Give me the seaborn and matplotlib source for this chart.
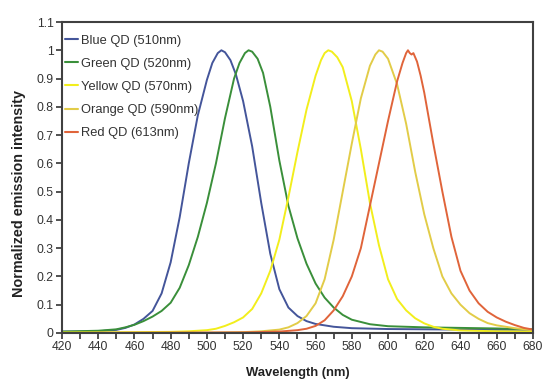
import matplotlib
matplotlib.use("Agg")
import matplotlib.pyplot as plt
import seaborn as sns
import pandas as pd
from matplotlib.ticker import MultipleLocator, FuncFormatter

# ---- data ----
series_names = ["Blue QD (510nm)", "Green QD (520nm)", "Yellow QD (570nm)",
                "Orange QD (590nm)", "Red QD (613nm)"]

blue_x = [420, 430, 440, 450, 455, 460, 465, 470, 475, 480, 485, 490, 495, 500, 503, 506,
          508, 510, 513, 516, 520, 525, 530, 535, 540, 545, 550, 555, 560, 570, 580, 600,
          640, 680]
blue_y = [0.005, 0.005, 0.006, 0.011, 0.018, 0.03, 0.05, 0.078, 0.14, 0.25, 0.41, 0.6,
          0.77, 0.895, 0.955, 0.99, 1.0, 0.993, 0.965, 0.915, 0.82, 0.66, 0.46, 0.28,
          0.155, 0.09, 0.06, 0.042, 0.032, 0.022, 0.017, 0.014, 0.012, 0.011]

green_x = [420, 440, 450, 455, 460, 465, 470, 475, 480, 485, 490, 495, 500, 505, 510, 515,
           518, 521, 523, 525, 528, 531, 535, 540, 545, 550, 555, 560, 565, 570, 575, 580,
           590, 600, 620, 640, 660, 680]
green_y = [0.005, 0.008, 0.013, 0.02, 0.029, 0.042, 0.058, 0.078, 0.107, 0.16, 0.24, 0.34,
           0.46, 0.6, 0.76, 0.9, 0.955, 0.99, 1.0, 0.995, 0.97, 0.92, 0.8, 0.61, 0.45,
           0.335, 0.245, 0.175, 0.125, 0.09, 0.064, 0.047, 0.031, 0.024, 0.02, 0.018,
           0.016, 0.013]

yellow_x = [420, 460, 480, 490, 500, 505, 510, 515, 520, 525, 530, 535, 540, 545, 550, 555,
            560, 563, 565, 567, 569, 572, 575, 580, 585, 590, 595, 600, 605, 610, 615, 620,
            625, 630, 640, 660, 680]
yellow_y = [0.002, 0.003, 0.004, 0.006, 0.01, 0.015, 0.025, 0.038, 0.055, 0.085, 0.14, 0.22,
            0.33, 0.48, 0.64, 0.79, 0.91, 0.965, 0.99, 1.0, 0.995, 0.975, 0.94, 0.82, 0.65,
            0.46, 0.31, 0.19, 0.12, 0.08, 0.052, 0.034, 0.022, 0.015, 0.009, 0.006, 0.005]

orange_x = [420, 500, 520, 530, 540, 545, 550, 555, 560, 565, 570, 575, 580, 585, 590, 593,
            595, 597, 600, 605, 610, 615, 620, 625, 630, 635, 640, 645, 650, 655, 660, 670,
            680]
orange_y = [0.0, 0.001, 0.003, 0.006, 0.012, 0.02, 0.035, 0.06, 0.105, 0.19, 0.33, 0.5, 0.67,
            0.83, 0.945, 0.985, 1.0, 0.995, 0.97, 0.88, 0.74, 0.57, 0.42, 0.3, 0.2, 0.14,
            0.1, 0.07, 0.05, 0.035, 0.027, 0.017, 0.01]

red_x = [420, 520, 540, 550, 555, 560, 565, 570, 575, 580, 585, 590, 595, 600, 605, 608,
         610, 611, 612, 613, 614, 616, 618, 620, 625, 630, 635, 640, 645, 650, 655, 660,
         665, 670, 675, 680]
red_y = [0.0, 0.002, 0.005, 0.01, 0.015, 0.025, 0.045, 0.08, 0.13, 0.2, 0.3, 0.45, 0.6, 0.75,
         0.89, 0.955, 0.99, 1.0, 0.99, 0.985, 0.99, 0.96, 0.91, 0.85, 0.67, 0.5, 0.34, 0.22,
         0.15, 0.105, 0.075, 0.055, 0.04, 0.028, 0.018, 0.012]

colors = ["#44559a", "#3a8f3a", "#f2ee1c", "#e2cc48", "#e0643a"]

xs = [blue_x, green_x, yellow_x, orange_x, red_x]
ys = [blue_y, green_y, yellow_y, orange_y, red_y]
frames = [pd.DataFrame({"Wavelength": x, "Intensity": y, "Series": n})
          for x, y, n in zip(xs, ys, series_names)]
df = pd.concat(frames, ignore_index=True)

sns.set_style("ticks")
plt.rcParams["font.family"] = ["Liberation Sans", "DejaVu Sans"]

fig = plt.figure(figsize=(5.47, 3.82), dpi=100)
ax = fig.add_axes([0.1133, 0.1283, 0.861, 0.8141])

sns.lineplot(data=df, x="Wavelength", y="Intensity", hue="Series",
             hue_order=series_names, palette=colors, estimator=None,
             linewidth=1.4, ax=ax, legend=True)

ax.set_xlim(420, 680)
ax.set_ylim(0, 1.1)
ax.xaxis.set_major_locator(MultipleLocator(20))
ax.xaxis.set_minor_locator(MultipleLocator(10))
ax.yaxis.set_major_locator(MultipleLocator(0.1))
ax.yaxis.set_major_formatter(FuncFormatter(lambda v, p: f"{round(v, 2):g}"))

ax.tick_params(axis="both", which="major", labelsize=8.7, length=4, width=1.2,
               colors="#333333", direction="out", pad=2)
ax.tick_params(axis="x", which="minor", length=4, width=1.2, color="#333333", direction="out")

for s in ax.spines.values():
    s.set_visible(True)
    s.set_color("#404040")
    s.set_linewidth(1.5)

ax.set_xlabel("Wavelength (nm)", fontsize=9.4, fontweight="bold", color="#222222", labelpad=10)
ax.set_ylabel("Normalized emission intensity", fontsize=10.4, fontweight="bold",
              color="#222222")
ax.yaxis.set_label_coords(-0.077, 0.45)

handles, labels = ax.get_legend_handles_labels()
leg = ax.legend(handles, labels, loc="upper left", frameon=False, fontsize=9.3,
                handlelength=1.05, handletextpad=0.2, labelspacing=0.86,
                borderpad=0.2, borderaxespad=0.0, bbox_to_anchor=(0.0, 0.968))
for t in leg.get_texts():
    t.set_color("#333333")
for line in leg.get_lines():
    line.set_linewidth(1.5)

fig.savefig("out.png", dpi=100)
